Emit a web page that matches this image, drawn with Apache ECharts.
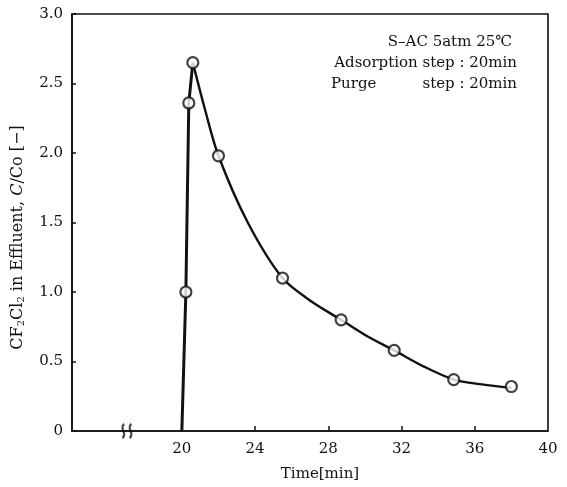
<!DOCTYPE html>
<html>
<head>
<meta charset="utf-8">
<script src="https://cdn.jsdelivr.net/npm/echarts@6/dist/echarts.min.js"></script>
<style>html,body{margin:0;padding:0;background:#fff}#c{width:567px;height:487px}</style>
</head>
<body>
<div id="c"></div>
<script>
// measured points (time [min], C/Co [-])
const timeMin = [20.22, 20.38, 20.6, 22.0, 25.5, 28.7, 31.6, 34.85, 38.0];
const ratio   = [1.0,   2.36,  2.65, 1.98, 1.1,  0.8,  0.58, 0.37,  0.32];
// fitted curve: rising part and decay part
const riseTime  = [20.0, 20.22, 20.38, 20.6];
const riseRatio = [0.0,  1.0,   2.36,  2.65];
const decayTime  = [20.6, 21.25, 22.0, 23.6, 25.5, 27.1, 28.7, 30.15, 31.6, 33.2, 34.85, 36.4, 38.0];
const decayRatio = [2.65, 2.32,  1.98, 1.5,  1.1,  0.93, 0.8,  0.68,  0.58, 0.465, 0.37, 0.335, 0.31];
const xLabelValues = [20, 24, 28, 32, 36, 40];
const xTickValues = [24, 28, 32, 36];
const breakAt = 17;
const notes = ['S\u2013AC 5atm 25\u2103', 'Adsorption step : 20min', 'Purge', 'step : 20min'];

const font = '"DejaVu Serif", "Liberation Serif", "Noto Sans CJK JP", serif';
const ink = '#111';
const zip = (a, b) => a.map((v, i) => [v, b[i]]);

const chart = echarts.init(document.getElementById('c'));
chart.setOption({
  animation: false,
  backgroundColor: '#fff',
  grid: { left: 72, right: 19, top: 14, bottom: 55, show: true, borderColor: ink, borderWidth: 1.6, backgroundColor: 'transparent' },
  xAxis: {
    type: 'value', min: 14, max: 40, interval: 2,
    splitLine: { show: false },
    axisLine: { show: true, lineStyle: { color: ink, width: 1.6 } },
    axisTick: { show: true, inside: true, length: 5, customValues: xTickValues, lineStyle: { color: ink, width: 1.5 } },
    axisLabel: { customValues: xLabelValues, color: ink, fontFamily: font, fontSize: 15, margin: 11 },
    name: 'Time[min]', nameLocation: 'middle', nameGap: 36,
    nameTextStyle: { color: ink, fontFamily: font, fontSize: 15, padding: [0, 0, 0, 20] }
  },
  yAxis: {
    type: 'value', min: 0, max: 3, interval: 0.5,
    splitLine: { show: false },
    axisLine: { show: true, lineStyle: { color: ink, width: 1.6 } },
    axisTick: { show: true, inside: true, length: 4, lineStyle: { color: ink, width: 1.5 } },
    axisLabel: { color: ink, fontFamily: font, fontSize: 15, margin: 9,
      formatter: v => v === 0 ? '0' : v.toFixed(1) },
    name: 'CF{s|2}Cl{s|2} in Effluent, {i|C}/Co [\u2212]', nameLocation: 'middle', nameGap: 46,
    nameTextStyle: { color: ink, fontFamily: font, fontSize: 16, padding: [0, 30, 0, 0],
      rich: { s: { fontFamily: font, fontSize: 10, verticalAlign: 'bottom', color: ink, padding: [6, 0, 0, 0] },
              i: { fontFamily: font, fontSize: 16, fontStyle: 'italic', color: ink } } }
  },
  series: [
    { type: 'line', data: zip(riseTime, riseRatio), symbol: 'none', lineStyle: { color: ink, width: 3 }, z: 2 },
    { type: 'line', data: zip(decayTime, decayRatio), symbol: 'none', smooth: 0.3, lineStyle: { color: ink, width: 2.4 }, z: 2 },
    { type: 'scatter', data: zip(timeMin, ratio), symbol: 'circle', symbolSize: 11,
      itemStyle: { color: '#fff', borderColor: ink, borderWidth: 2.2 }, z: 3 },
    { type: 'scatter', data: [[breakAt, 0]], symbol: 'path://M3,0 C0,4 5,8 2,12 M7,0 C4,4 9,8 6,12',
      symbolSize: [9, 14], itemStyle: { color: 'none', borderColor: ink, borderWidth: 2.5 }, z: 4, silent: true }
  ],
  graphic: [
    { type: 'text', right: 55, top: 35, style: { text: notes[0], font: '15px ' + font, fill: ink } },
    { type: 'text', right: 50, top: 56, style: { text: notes[1], font: '15px ' + font, fill: ink } },
    { type: 'text', left: 331, top: 77, style: { text: notes[2], font: '15px ' + font, fill: ink } },
    { type: 'text', right: 50, top: 77, style: { text: notes[3], font: '15px ' + font, fill: ink } }
  ]
});
</script>
</body>
</html>
